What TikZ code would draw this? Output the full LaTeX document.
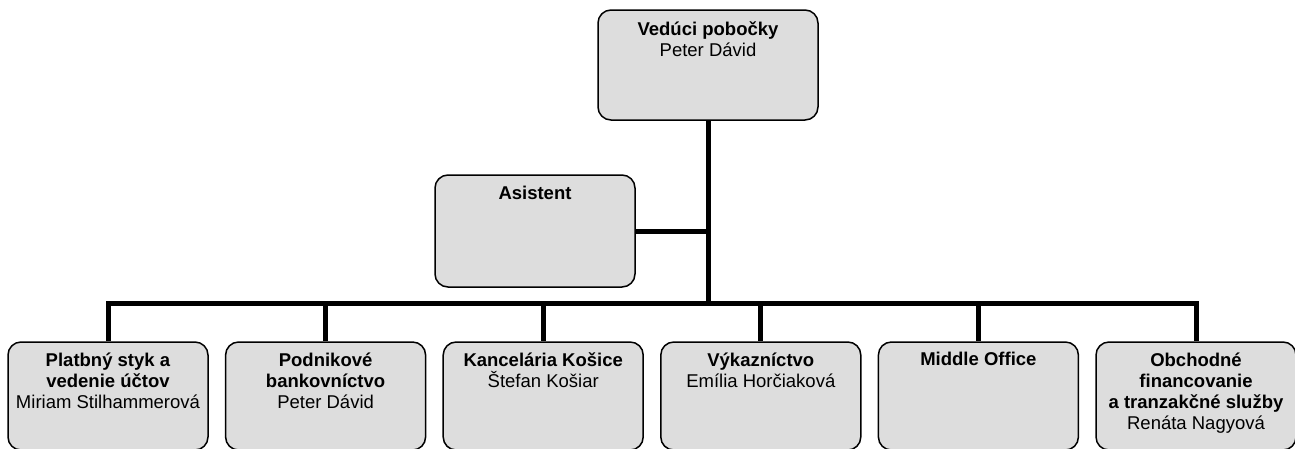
\documentclass[tikz,border=0pt]{standalone}
\usepackage{fontspec}
\setmainfont{Liberation Sans}
\usetikzlibrary{positioning}

\definecolor{boxgray}{HTML}{DDDDDD}

\tikzset{
  unit/.style={draw=black,line width=1.5pt,fill=boxgray,rounded corners=13pt,
    minimum width=200pt,minimum height=108pt,inner sep=0pt},
  boxtext/.style={font=\fontsize{18.5}{21}\selectfont,align=center,inner sep=0pt,anchor=north},
  link/.style={line width=5pt,line join=miter}
}

\begin{document}
\begin{tikzpicture}[x=1pt,y=-1pt]
          \useasboundingbox (0,0) rectangle (1295,448);
          \clip (0,0) rectangle (1295,448);
          % top of the tree
          \node[unit,minimum width=220pt,minimum height=110pt] (head) at (708,65) {};
          \node[boxtext] (head-t) at ([yshift=-12pt]head.north) {\textbf{Vedúci pobočky}\\Peter Dávid};
          \node[unit,minimum height=112pt] (asst) at (535,231) {};
          \node[boxtext] (asst-t) at ([yshift=-12pt]asst.north) {\textbf{Asistent}};
          \coordinate (hub) at (708,303);
          % departments
          \foreach \i/\txt in {1/{\textbf{Platbný styk a}\\\textbf{vedenie účtov}\\Miriam Stilhammerová},
                               2/{\textbf{Podnikové}\\\textbf{bankovníctvo}\\Peter Dávid},
                               3/{\textbf{Kancelária Košice}\\Štefan Košiar},
                               4/{\textbf{Výkazníctvo}\\Emília Horčiaková},
                               5/{\textbf{Middle Office}},
                               6/{\textbf{Obchodné}\\\textbf{financovanie}\\\textbf{a tranzakčné služby}\\Renáta Nagyová}}{
            \node[unit] (u\i) at ({108+217.6*(\i-1)},396) {};
            \node[boxtext] (u\i-t) at ([yshift=-11pt]u\i.north) {\txt};
          }
          \draw[link] (head.south) -- (hub);
          \draw[link] (asst.east) -- (asst.east -| hub);
          \draw[link] (u1.north) -- (u1.north |- hub) -- (u6.north |- hub) -- (u6.north);
          \foreach \i in {2,...,5}
            \draw[link] (u\i.north |- hub) -- (u\i.north);
        \end{tikzpicture}
\end{document}
